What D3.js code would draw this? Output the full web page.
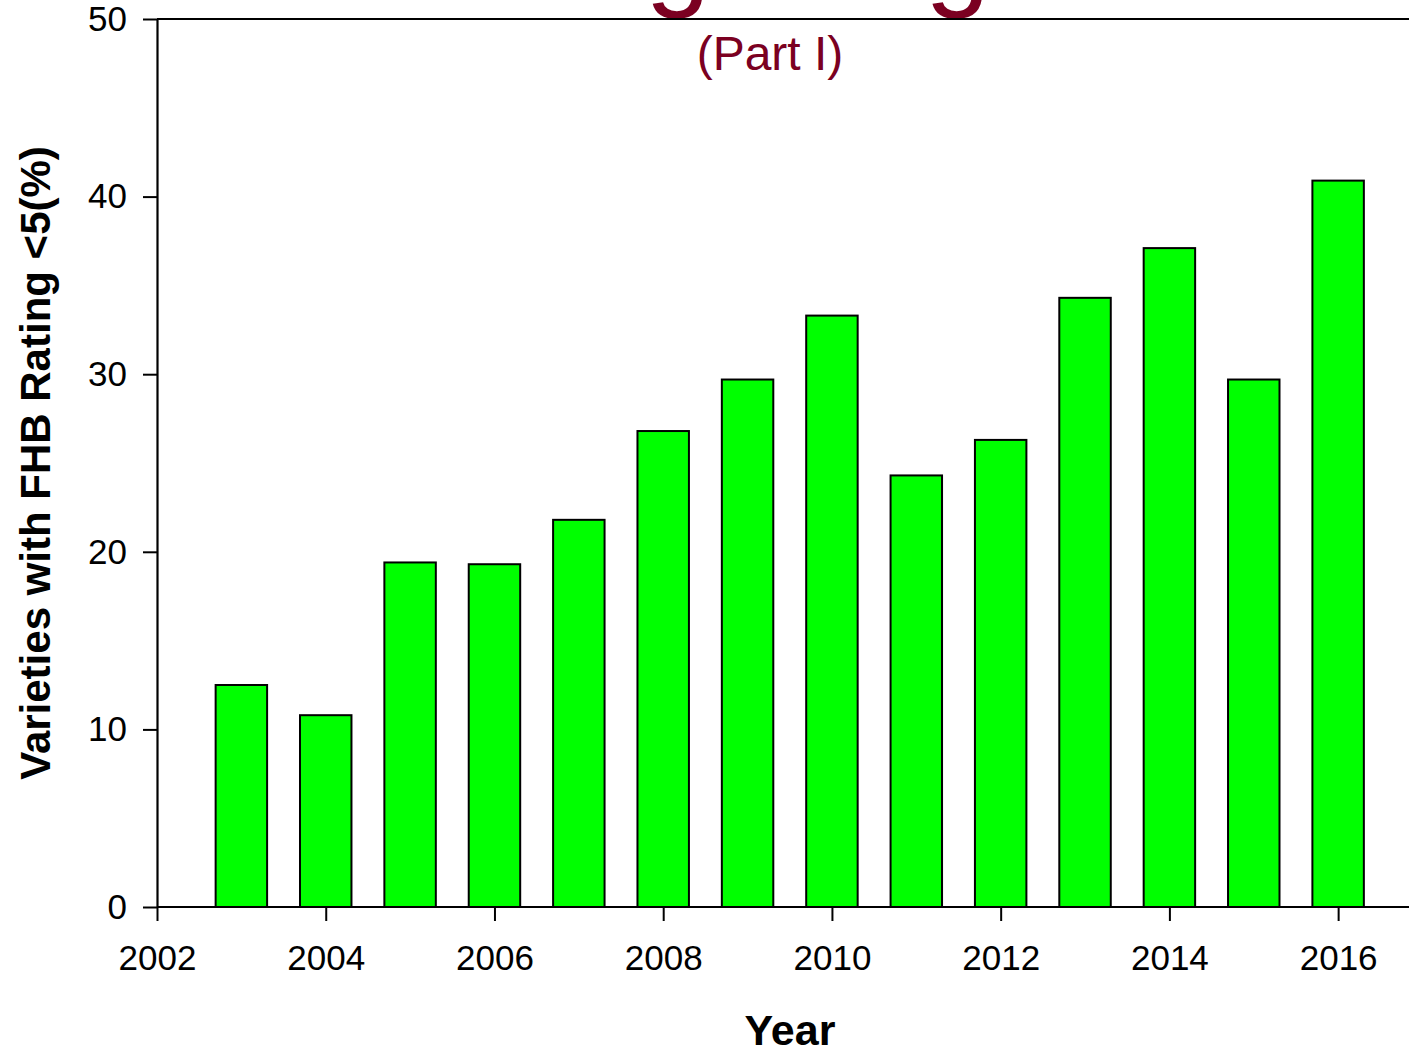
<!DOCTYPE html>
<html><head><meta charset="utf-8">
<script src="https://cdn.jsdelivr.net/npm/d3@7"></script>
<style>body{margin:0;background:#fff;} svg{display:block;font-family:Arial,"Liberation Sans",sans-serif;}</style>
</head><body>
<svg id="c" width="1409" height="1051"></svg>
<script>
const years = [2003,2004,2005,2006,2007,2008,2009,2010,2011,2012,2013,2014,2015,2016];
const values = [12.5,10.8,19.4,19.3,21.8,26.8,29.7,33.3,24.3,26.3,34.3,37.1,29.7,40.9];
const xTicks = [2002,2004,2006,2008,2010,2012,2014,2016];
const yTicks = [0,10,20,30,40,50];
const titleText = "Breeding Progress";
const subtitleText = "(Part I)";
const xTitle = "Year";
const yTitle = "Varieties with FHB Rating <5(%)";

const svg = d3.select("#c");
const x = d3.scaleLinear().domain([2002,2017]).range([157,1422.5]);
const y = d3.scaleLinear().domain([0,50]).range([907,19]);
const barW = (x(2003)-x(2002))*0.61;
const red = "#7b0021";
const ff = "Arial,'Liberation Sans',sans-serif";

// title (mostly above the visible area)
svg.append("text").attr("x",242).attr("y",-5).attr("font-size",117).attr("fill",red).text(titleText);
svg.append("text").attr("x",770).attr("y",70).attr("text-anchor","middle").attr("font-size",48).attr("fill",red).text(subtitleText);

// bars
svg.append("g").selectAll("rect").data(years).join("rect")
  .attr("x",(d)=>x(d)-barW/2).attr("width",barW)
  .attr("y",(d,i)=>y(values[i])).attr("height",(d,i)=>y(0)-y(values[i]))
  .attr("fill","#00ff00").attr("stroke","#000").attr("stroke-width",2);

// frame top
svg.append("line").attr("x1",x(2002)).attr("x2",1409).attr("y1",y(50)).attr("y2",y(50)).attr("stroke","#000").attr("stroke-width",2);

// axes
const xa = svg.append("g").attr("transform",`translate(0,${y(0)})`)
  .call(d3.axisBottom(x).tickValues(xTicks).tickFormat(d3.format("d")).tickSize(14).tickSizeOuter(0).tickPadding(24));
xa.select(".domain").attr("stroke-width",2.2).attr("d",`M${x(2002)},0H1409`);
xa.selectAll(".tick line").attr("stroke-width",2);
xa.selectAll("text").attr("font-size",35).attr("fill","#000").attr("font-family",ff);

const ya = svg.append("g").attr("transform",`translate(${x(2002)},0)`)
  .call(d3.axisLeft(y).tickValues(yTicks).tickSize(14).tickSizeOuter(0).tickPadding(16));
ya.select(".domain").attr("stroke-width",2.2);
ya.selectAll(".tick line").attr("stroke-width",2);
ya.selectAll("text").attr("font-size",35).attr("fill","#000").attr("font-family",ff);

svg.append("text").attr("x",790).attr("y",1045).attr("text-anchor","middle").attr("font-size",43).attr("font-weight","bold").text(xTitle);
svg.append("text").attr("transform","translate(50,463) rotate(-90)").attr("text-anchor","middle").attr("font-size",42).attr("font-weight","bold").text(yTitle);
</script>
</body></html>
